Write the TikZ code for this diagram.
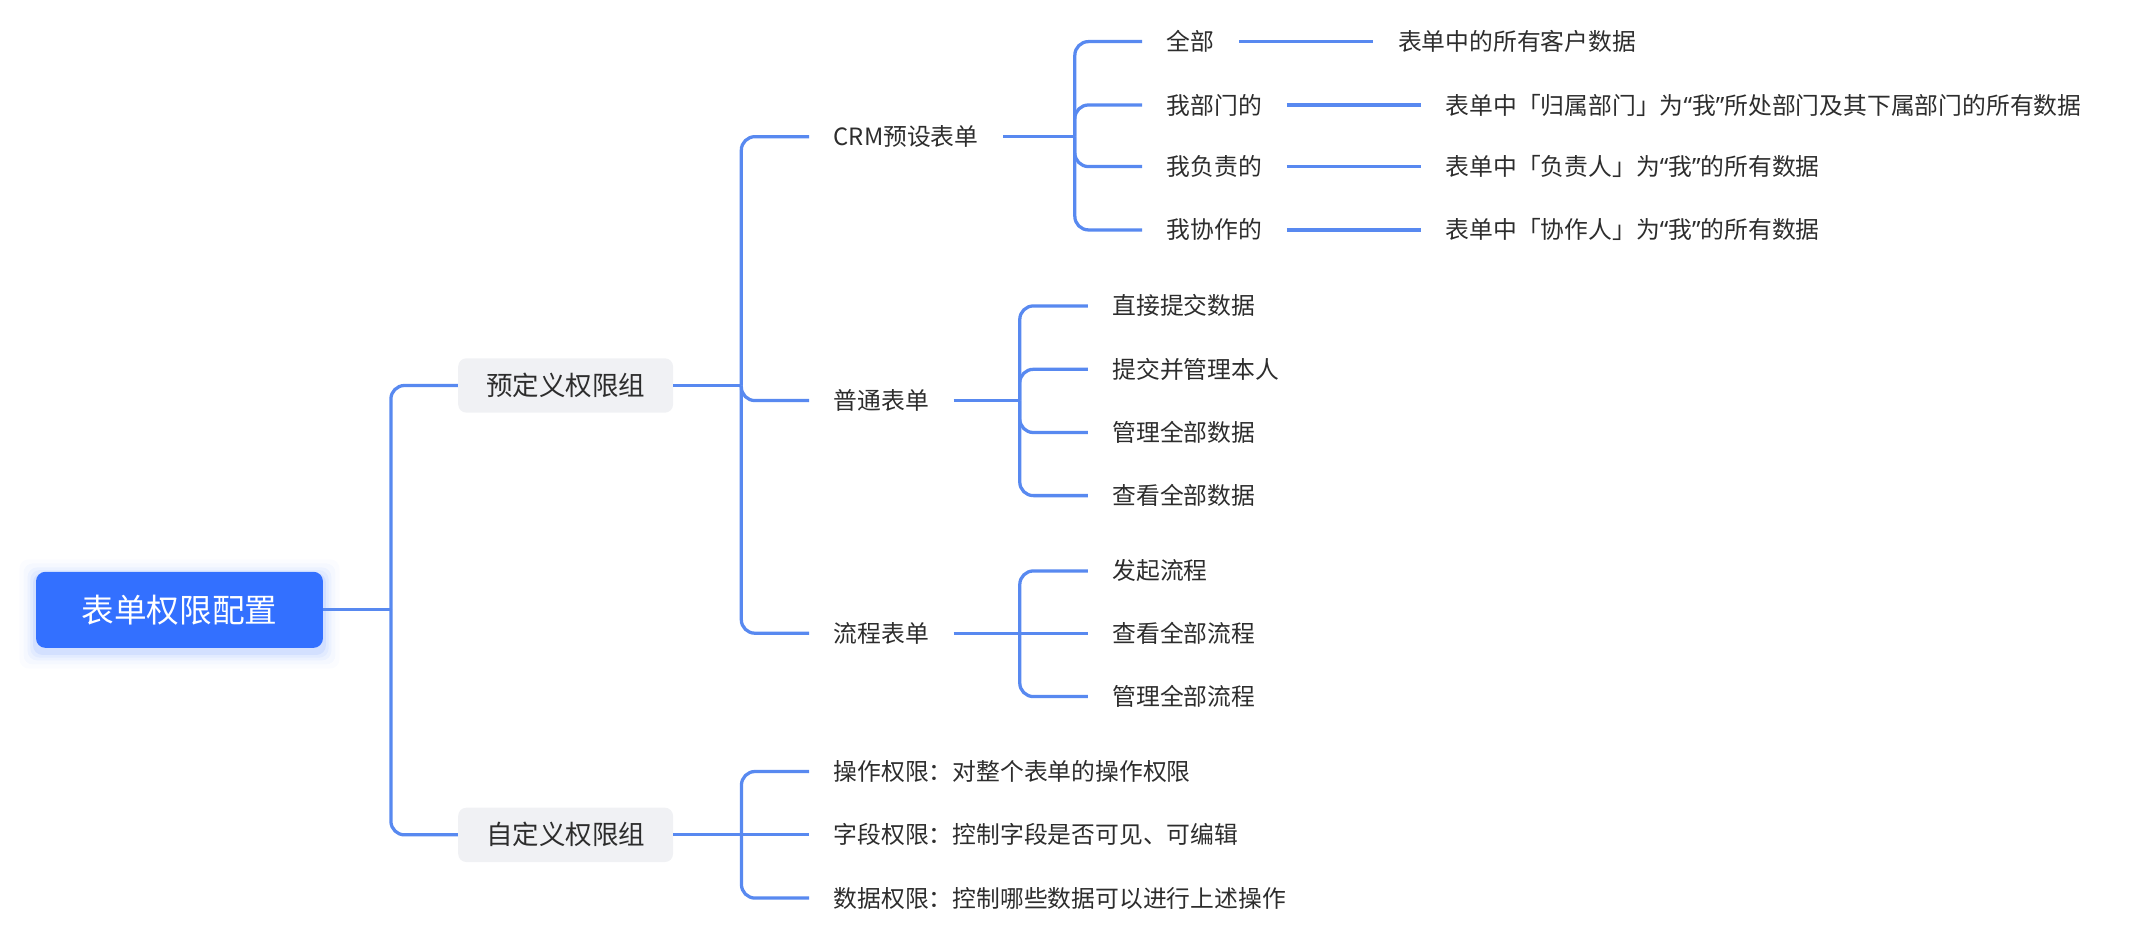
\documentclass[tikz,border=0pt]{standalone}
\usepackage{fontspec}
\newfontfamily\cjk{Noto Sans CJK SC}
\newfontfamily\latq{Noto Sans}
\newcommand{\myLQ}{{\latq “}}
\newcommand{\myRQ}{{\latq ”}}
\usetikzlibrary{backgrounds}
\definecolor{lineblue}{RGB}{88,137,240}
\definecolor{rootblue}{RGB}{51,112,255}
\definecolor{boxgray}{RGB}{240,241,244}
\definecolor{txt}{RGB}{45,45,45}
\begin{document}
\begin{tikzpicture}[x=1pt,y=-1pt,
  conn/.style={draw=lineblue,line width=2.4pt},
  br/.style={conn,rounded corners=10pt},
  rootbox/.style={fill=rootblue,rounded corners=7pt,minimum width=211pt,minimum height=56pt,inner sep=0pt,
    font=\cjk\fontsize{24}{28}\selectfont,text=white,text height=21.1pt,text depth=2.9pt},
  grpbox/.style={fill=boxgray,rounded corners=6pt,minimum width=158pt,minimum height=40pt,inner sep=0pt,
    font=\cjk\fontsize{19.5}{22}\selectfont,text=txt,text height=17.2pt,text depth=2.3pt},
  lbl/.style={anchor=west,inner xsep=18pt,inner ysep=0pt,
    font=\cjk\fontsize{17.5}{20}\selectfont,text=txt,text height=15.4pt,text depth=2.1pt}]
\useasboundingbox (0,0) rectangle (1568,691.3);

% root and groups
\node[rootbox] (root) at (132,448.5) {表单权限配置};
\node[grpbox] (pre) at (416,283.5) {预定义权限组};
\node[grpbox] (cus) at (416,614) {自定义权限组};

\begin{scope}[on background layer]
\foreach \k/\o in {2/0.08,4/0.06,6/0.045,9/0.03,12/0.02}
  \fill[rootblue,opacity=\o,rounded corners=7pt]
    ([shift={(-\k,-\k+3)}]root.north west) rectangle ([shift={(\k,\k+3)}]root.south east);
\end{scope}

\coordinate (j0) at (287.5,448.5);
\draw[conn] (root.east) -- (j0);
\draw[br] (j0) |- (pre.west);
\draw[br] (j0) |- (cus.west);

% level 2 under pre
\node[lbl] (crm) at (595,100.5) {CRM预设表单};
\node[lbl] (pt) at (595,294.6) {普通表单};
\node[lbl] (lc) at (595,465.7) {流程表单};
\coordinate (j1) at (545.2,283.5);
\draw[conn] (pre.east) -- (j1);
\draw[br] (j1) |- (crm.west);
\draw[br] (j1) |- (pt.west);
\draw[br] (j1) |- (lc.west);

% CRM children
\node[lbl] (c1) at (840,30.6) {全部};
\node[lbl] (c2) at (840,77.2) {我部门的};
\node[lbl] (c3) at (840,122.5) {我负责的};
\node[lbl] (c4) at (840,169.1) {我协作的};
\coordinate (j2) at (790.5,100.5);
\draw[conn] (crm.east) -- (j2);
\foreach \c in {c1,c2,c3,c4} \draw[br] (j2) |- (\c.west);

\node[lbl] (d1) at (1010,30.6) {表单中的所有客户数据};
\node[lbl] (d2) at (1045,77.2) {表单中「归属部门」为\myLQ 我\myRQ 所处部门及其下属部门的所有数据};
\node[lbl] (d3) at (1045,122.5) {表单中「负责人」为\myLQ 我\myRQ 的所有数据};
\node[lbl] (d4) at (1045,169.1) {表单中「协作人」为\myLQ 我\myRQ 的所有数据};
\draw[conn] (c1.east) -- (d1.west);
\draw[conn] (c2.east) -- (d2.west);
\draw[conn] (c3.east) -- (d3.west);
\draw[conn] (c4.east) -- (d4.west);

% normal form children
\node[lbl] (p1) at (800,225) {直接提交数据};
\node[lbl] (p2) at (800,271.6) {提交并管理本人};
\node[lbl] (p3) at (800,318.1) {管理全部数据};
\node[lbl] (p4) at (800,364.5) {查看全部数据};
\coordinate (j3) at (750,294.6);
\draw[conn] (pt.east) -- (j3);
\foreach \c in {p1,p2,p3,p4} \draw[br] (j3) |- (\c.west);

% flow form children
\node[lbl] (f1) at (800,419.9) {发起流程};
\node[lbl] (f2) at (800,465.7) {查看全部流程};
\node[lbl] (f3) at (800,512.3) {管理全部流程};
\coordinate (j4) at (750,465.7);
\draw[conn] (lc.east) -- (j4);
\draw[br] (j4) |- (f1.west);
\draw[conn] (j4) -- (f2.west);
\draw[br] (j4) |- (f3.west);

% custom group children
\node[lbl] (u1) at (595,567.4) {操作权限：对整个表单的操作权限};
\node[lbl] (u2) at (595,614) {字段权限：控制字段是否可见、可编辑};
\node[lbl] (u3) at (595,660.5) {数据权限：控制哪些数据可以进行上述操作};
\coordinate (j5) at (545.3,614);
\draw[conn] (cus.east) -- (j5);
\draw[br] (j5) |- (u1.west);
\draw[conn] (j5) -- (u2.west);
\draw[br] (j5) |- (u3.west);
\end{tikzpicture}
\end{document}
